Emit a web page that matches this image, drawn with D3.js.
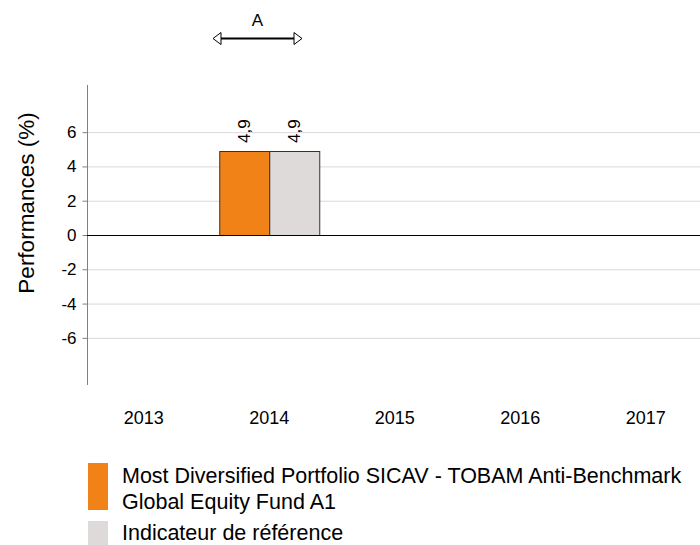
<!DOCTYPE html>
<html>
<head>
<meta charset="utf-8">
<script src="https://cdn.jsdelivr.net/npm/d3@7"></script>
<style>
  body { margin: 0; background: #fff; }
  svg { font-family: "Liberation Sans", Arial, sans-serif; }
</style>
</head>
<body>
<svg width="700" height="545"></svg>
<script>
// chart data
var years = ["2013", "2014", "2015", "2016", "2017"];
var fundValues = [null, 4.9, null, null, null];
var indexValues = [null, 4.9, null, null, null];
var yTicks = [-6, -4, -2, 0, 2, 4, 6];
var seriesNames = ["Most Diversified Portfolio SICAV - TOBAM Anti-Benchmark", "Global Equity Fund A1", "Indicateur de référence"];

var svg = d3.select("svg");
var fontSize = 17;

var x = d3.scaleBand().domain(years).range([81, 708.5]);
var y = d3.scaleLinear().domain([-8.75, 8.75]).range([385, 85]);
var inner = d3.scaleBand().domain(["fund", "index"]).range([0, 100]);
var groupOffset = (x.bandwidth() - 100) / 2;

// grid lines
svg.append("g").selectAll("line")
    .data(yTicks.filter(function(d) { return d !== 0; }))
  .enter().append("line")
    .attr("x1", 87).attr("x2", 700)
    .attr("y1", function(d) { return y(d) + 0.5; })
    .attr("y2", function(d) { return y(d) + 0.5; })
    .attr("stroke", "#d9d9d9");

// y axis
var yAxis = svg.append("g")
    .attr("transform", "translate(87.5,0)")
    .call(d3.axisLeft(y).tickValues(yTicks).tickSize(5).tickPadding(6).tickFormat(function(d) { return String(d); }));
yAxis.select(".domain").attr("stroke", "#808080").attr("d", "M0," + y.range()[1] + "V" + y.range()[0]);
yAxis.selectAll(".tick line").attr("stroke", "#808080");
yAxis.selectAll("text").attr("font-size", fontSize).attr("fill", "#000").attr("font-family", "Liberation Sans, Arial, sans-serif");

svg.append("text")
    .attr("transform", "translate(34,203) rotate(-90)")
    .attr("text-anchor", "middle")
    .attr("font-size", 22.5)
    .text("Performances (%)");

// x labels
svg.append("g").selectAll("text")
    .data(years)
  .enter().append("text")
    .attr("x", function(d) { return x(d) + x.bandwidth() / 2; })
    .attr("y", 424)
    .attr("text-anchor", "middle")
    .attr("font-size", 18)
    .text(function(d) { return d; });

// bars
var bars = [];
years.forEach(function(yr, i) {
  if (fundValues[i] != null) bars.push({year: yr, key: "fund", value: fundValues[i], color: "#f08218"});
  if (indexValues[i] != null) bars.push({year: yr, key: "index", value: indexValues[i], color: "#dedad9"});
});

svg.append("g").selectAll("rect")
    .data(bars)
  .enter().append("rect")
    .attr("x", function(d) { return x(d.year) + groupOffset + inner(d.key) + 0.5; })
    .attr("y", function(d) { return y(Math.max(0, d.value)) + 0.5; })
    .attr("width", inner.bandwidth())
    .attr("height", function(d) { return Math.abs(y(d.value) - y(0)); })
    .attr("fill", function(d) { return d.color; })
    .attr("stroke", "#333")
    .attr("stroke-width", 1);

// value labels
svg.append("g").selectAll("text")
    .data(bars)
  .enter().append("text")
    .attr("transform", function(d) {
      var cx = x(d.year) + groupOffset + inner(d.key) + inner.bandwidth() / 2 + 6;
      return "translate(" + cx + "," + (y(d.value) - 8) + ") rotate(-90)";
    })
    .attr("font-size", fontSize)
    .text(function(d) { return String(d.value).replace(".", ","); });

// zero line
svg.append("line")
    .attr("x1", 87).attr("x2", 700)
    .attr("y1", y(0) + 0.5).attr("y2", y(0) + 0.5)
    .attr("stroke", "#000");

// period annotation "A"
var ax1 = 213, ax2 = 302, ay = 38.5;
var ann = svg.append("g");
ann.append("line").attr("x1", ax1 + 8).attr("x2", ax2 - 8).attr("y1", ay).attr("y2", ay)
    .attr("stroke", "#000").attr("stroke-width", 2);
ann.append("path")
    .attr("d", "M" + ax1 + "," + ay + "L" + (ax1 + 8) + "," + (ay - 6) + "L" + (ax1 + 8) + "," + (ay + 6) + "Z")
    .attr("fill", "#fff").attr("stroke", "#000");
ann.append("path")
    .attr("d", "M" + ax2 + "," + ay + "L" + (ax2 - 8) + "," + (ay - 6) + "L" + (ax2 - 8) + "," + (ay + 6) + "Z")
    .attr("fill", "#fff").attr("stroke", "#000");
ann.append("text")
    .attr("x", (ax1 + ax2) / 2).attr("y", 26)
    .attr("text-anchor", "middle")
    .attr("font-size", 17)
    .text("A");

// legend
var legend = svg.append("g");
legend.append("rect").attr("x", 88).attr("y", 463).attr("width", 20).attr("height", 47).attr("fill", "#f08218");
legend.append("rect").attr("x", 88).attr("y", 521).attr("width", 20).attr("height", 24).attr("fill", "#dedad9");
legend.selectAll("text")
    .data(seriesNames)
  .enter().append("text")
    .attr("x", 122)
    .attr("y", function(d, i) { return [483, 509, 540][i]; })
    .attr("font-size", 21.5)
    .text(function(d) { return d; });
</script>
</body>
</html>
